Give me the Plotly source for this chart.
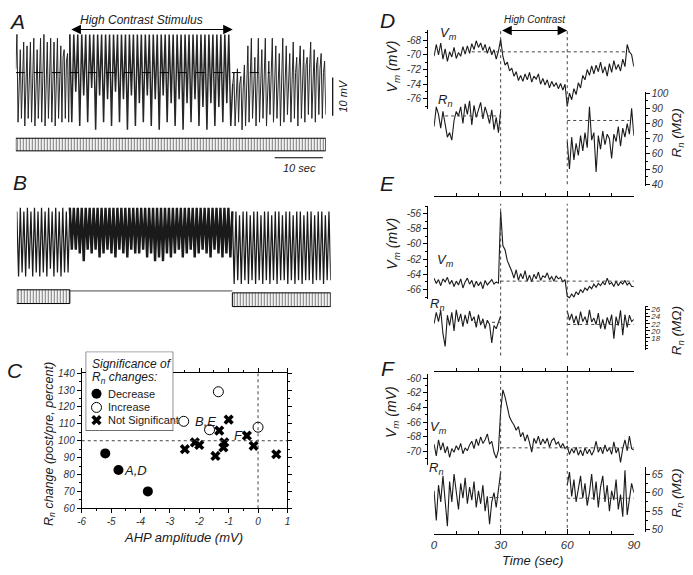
import numpy as np
import plotly.graph_objects as go

W, H = 693, 575
FONT = "Liberation Sans"
INK = "#1a1a1a"


def px(x):
    return x / W


def py(y):
    return 1 - y / H


# ---------------- Panel A : membrane potential (mV re. resting level) ----------------
a_phase_t = [0.0, 11.2, 45.0, 64.3]          # start, stimulus on, stimulus off, end (s)
a_rest_end = 52.7                            # dashed resting-level line ends (s)
a_pre = [1, 10, -13, 0, 6, -12, 2, 8, -14, 1, 7, -12, 0, 8, -13, 2, 9, -14, 1, 6, -12, 3, 9, -13,
         2, 10, -14, 1, 8, -12, 3, 9, -13, 2, 8, -14, 3, 9, -12, 2, 7, -13, 4, 6, -12, 3, 5, -13]
a_stim = [10, -13, 10, -5, 10, -14, 10, -6, 10, -13, 10, -4, 10, -15, 10, -6, 10, -13, 10, -7,
          10, -14, 10, -5, 10, -13, 10, -7, 10, -15, 10, -6, 10, -14, 10, -8, 10, -13, 10, -6,
          10, -14, 10, -7, 10, -15, 10, -6, 10, -13, 10, -8, 10, -14, 10, -7, 10, -15, 10, -8,
          10, -13, 10, -7, 10, -14, 10, -9, 10, -15, 10, -8, 10, -14, 10, -9, 10, -13, 10, -8,
          10, -14]
a_post = [-3, 0, -14, -4, 1, -13, -3, -1, -15, -4, 2, -14, -3, 7, -13, -2, 9, -12, -4, 4, -14,
          -3, 9, -13, -2, 6, -12, -3, 9, -14, -2, 3, -11, -1, 9, -13, -2, 7, -12, 0, 5, -14,
          -1, 9, -13, -1, 7, -11, 0, 5, -13, 1, 8, -12, 0, 4, -14, 1, 7, -12, 0, 6, -13,
          2, 4, -11, 1, 8, -12, 0, 6, -13, 2, 4, -11, 1, 5, -12, 0, 3, -11]

# ---------------- Panel B ----------------
b_phase_t = [0.0, 11.0, 44.7, 65.1]
b_pre = [9, -8, 10, -7, 9, -8, 10, -6, 9, -8, 10, -7, 9, -8, 10, -7, 9, -8, 10, -6, 9, -8, 10, -7,
         9, -8, 10, -7, 9, -7]
b_stim = [10, -1, 10, -1, 10, -2, 10, -4, 10, -1, 10, -2, 10, -1, 10, -3, 10, -2, 10, -1,
          10, -2, 10, -3, 10, -1, 10, -2, 10, -3, 10, -1, 10, -2, 10, -2, 10, -1, 10, -3,
          10, -2, 10, -4, 10, -3, 10, -4, 10, -2, 10, -3, 10, -2, 10, -1, 10, -3, 10, -2,
          10, -1, 10, -3, 10, -2, 10, -1, 10, -2, 10, -3, 10, -1, 10, -2, 10, -3, 10, -2,
          10, -3]
b_post = [9, -10, 9, -9, 8, -10, 9, -9, 9, -10, 8, -9, 9, -10, 9, -9, 8, -10, 9, -9, 9, -10, 8, -9,
          9, -10, 9, -9, 8, -9, 9, -10, 9, -9, 8, -10, 9, -9, 9, -10, 8, -9, 9, -9, 9, -10, 8, -9,
          9, -9, 9, -10, 8, -9, 9, -9]

# ---------------- Panel C ----------------
dec_x = [-5.2, -4.75, -3.75]
dec_y = [92.5, 82.7, 70.0]
inc_x = [-2.53, -1.35, -1.65, 0.0]
inc_y = [111.5, 129.0, 106.5, 108.0]
ns_x = [-2.49, -2.15, -2.0, -1.45, -1.32, -1.0, -1.15, -1.18, -0.38, -0.15, 0.62]
ns_y = [95.0, 99.0, 97.5, 91.0, 106.0, 112.5, 99.0, 96.0, 103.0, 97.0, 92.0]
c_xticks = [-6, -5, -4, -3, -2, -1, 0, 1]
c_yticks = [60, 70, 80, 90, 100, 110, 120, 130, 140]
c_labels = [("B,E", -1.79, 111.6), ("A,D", -4.18, 82.6), ("F", -0.68, 102.9)]
c_legend = ["Decrease", "Increase", "Not Significant"]

# ---------------- Panels D-F (1 s samples, 0-90 s; Rn before and after stimulus) ----------------
stim_on_off = [30, 60]
d_vm = [-70.2, -68.6, -70.0, -68.4, -70.6, -69.2, -70.9, -69.6, -70.3, -69.0,
        -70.5, -69.7, -70.2, -68.9, -69.9, -68.8, -69.8, -68.5, -69.3, -68.1,
        -69.0, -68.4, -69.4, -68.6, -69.8, -68.9, -70.0, -69.3, -70.6, -69.5,
        -67.9, -70.2, -71.4, -71.0, -72.2, -71.8, -72.9, -72.3, -73.5, -72.8,
        -73.6, -72.6, -73.4, -72.4, -73.7, -72.9, -73.3, -72.6, -74.0, -73.2,
        -74.1, -73.4, -74.5, -73.6, -74.3, -73.8, -74.6, -73.9, -74.8, -74.0,
        -77.0, -75.2, -76.1, -74.6, -75.4, -73.8, -74.5, -72.8, -73.4, -72.0,
        -72.8, -71.5, -72.6, -71.4, -72.3, -71.0, -72.5, -71.6, -72.9, -71.2,
        -72.4, -70.8, -72.0, -71.3, -72.2, -70.6, -71.6, -68.6, -69.6, -70.0, -71.6]
d_rn_pre = [78, 91, 86, 77, 88, 80, 71, 74, 69, 82, 88, 85, 91, 80, 93, 86, 95, 79, 92, 84,
            90, 94, 83, 91, 86, 80, 89, 76, 84, 74, 88]
d_rn_post = [68, 50, 71, 56, 67, 59, 72, 62, 74, 64, 91, 69, 74, 48, 72, 63, 75, 66, 73, 70,
             57, 73, 68, 78, 65, 77, 71, 80, 73, 90, 72]
d_vm_ref, d_rn_ref_pre, d_rn_ref_post = -69.6, 85, 82

e_vm = [-64.5, -65.2, -64.7, -65.5, -64.6, -65.0, -64.4, -65.3, -64.8, -65.6,
        -64.9, -65.4, -64.6, -65.8, -65.0, -64.5, -65.3, -64.8, -65.7, -64.9,
        -65.5, -65.0, -65.9, -64.8, -65.4, -65.1, -64.7, -65.3, -65.0, -65.2,
        -55.7, -60.2, -60.8, -62.2, -62.8, -63.6, -64.5, -63.4, -64.8, -63.9,
        -64.6, -63.5, -64.9, -64.1, -65.0, -64.0, -64.6, -63.7, -64.8, -64.2,
        -64.4, -63.8, -64.7, -64.3, -64.9, -64.2, -64.6, -64.4, -65.0, -64.7,
        -66.9, -67.1, -66.6, -67.0, -66.3, -66.7, -66.0, -66.4, -65.8, -66.1,
        -65.6, -65.9, -65.3, -65.7, -65.2, -65.5, -65.0, -65.4, -64.5, -65.3,
        -65.1, -65.6, -64.9, -65.5, -65.0, -65.3, -64.8, -65.4, -65.1, -65.6, -65.6]
e_rn_pre = [22.0, 25.2, 22.6, 25.8, 19.2, 15.6, 24.4, 21.5, 25.2, 20.0, 25.9, 22.5, 24.8, 21.2,
            24.5, 22.0, 25.6, 22.8, 24.0, 21.0, 24.6, 21.6, 23.4, 20.6, 23.0, 21.8, 16.6, 21.5,
            20.6, 22.6, 24.2]
e_rn_post = [25.6, 23.0, 24.8, 22.2, 24.2, 21.6, 25.4, 22.6, 24.0, 22.0, 25.9, 22.5, 23.6, 21.8,
             25.0, 20.6, 23.2, 20.4, 23.8, 21.8, 24.6, 17.8, 24.0, 21.5, 25.8, 18.8, 24.6, 21.0,
             24.4, 22.6, 23.2]
e_vm_ref, e_rn_ref_pre, e_rn_ref_post = -64.9, 22.4, 21.8

f_vm = [-69.0, -70.6, -68.4, -69.8, -68.8, -70.2, -69.3, -70.8, -69.6, -70.1,
        -69.2, -69.8, -68.9, -70.3, -69.5, -69.9, -69.1, -68.6, -69.6, -68.3,
        -69.2, -68.0, -68.9, -68.4, -67.6, -69.0, -68.6, -70.1, -70.9, -69.8,
        -64.5, -61.6, -62.6, -64.2, -65.3, -65.9, -66.4, -67.1, -66.6, -68.0,
        -67.4, -68.6, -67.7, -68.8, -70.1, -68.2, -68.9, -67.9, -69.1, -68.3,
        -68.9, -68.2, -69.4, -68.5, -68.2, -69.0, -68.7, -69.5, -68.9, -69.6,
        -69.3, -70.4, -69.6, -70.2, -69.4, -70.5, -69.8, -70.6, -69.5, -70.3,
        -69.7, -70.5, -69.9, -68.6, -70.1, -69.4, -70.3, -69.1, -70.0, -69.5,
        -70.4, -68.7, -70.2, -69.5, -71.5, -69.6, -68.4, -69.9, -67.9, -69.6, -69.8]
f_rn_pre = [60.5, 52.5, 62.0, 57.5, 64.5, 58.0, 51.0, 63.0, 57.5, 65.0, 59.5, 55.5, 62.5, 58.5,
            64.0, 57.0, 61.5, 58.0, 63.0, 56.0, 60.5, 57.0, 62.0, 55.0, 59.0, 51.5, 57.5, 60.0,
            56.0, 61.5, 65.5]
f_rn_post = [62.0, 65.5, 59.0, 63.5, 57.5, 61.0, 64.5, 58.5, 62.5, 56.5, 60.0, 65.0, 58.0, 63.0,
             56.0, 61.5, 64.5, 57.5, 62.0, 55.0, 60.5, 58.0, 63.5, 55.5, 59.5, 53.5, 66.0, 54.0,
             58.5, 62.5, 60.0]
f_vm_ref, f_rn_ref_pre, f_rn_ref_post = -69.5, 58.7, 58.5

d_vm_ticks = [-68, -70, -72, -74, -76]
d_rn_ticks = [40, 50, 60, 70, 80, 90, 100]
e_vm_ticks = [-56, -58, -60, -62, -64, -66]
e_rn_ticks = [18, 20, 22, 24, 26]
f_vm_ticks = [-60, -62, -64, -66, -68, -70]
f_rn_ticks = [50, 55, 60, 65]
time_ticks = [0, 30, 60, 90]

# ======================================================================
fig = go.Figure()


def line_trace(x, y, xa, ya, width=1.0, color=INK):
    fig.add_trace(go.Scatter(x=x, y=y, xaxis=xa, yaxis=ya, mode="lines",
                             line=dict(color=color, width=width), showlegend=False,
                             hoverinfo="skip"))


def phase_times(bounds, segs):
    out = []
    for i, s in enumerate(segs):
        out.append(np.linspace(bounds[i], bounds[i + 1], len(s), endpoint=(i == len(segs) - 1)))
    return np.concatenate(out)


def phased_trace(bounds, segs, xa, ya, widths, color):
    t = phase_times(bounds, segs)
    v = np.concatenate([np.asarray(s, dtype=float) for s in segs])
    start = 0
    for i, s in enumerate(segs):
        stop = start + len(s) + (1 if i < len(segs) - 1 else 0)
        line_trace(t[start:stop], v[start:stop], xa, ya, width=widths[i], color=color)
        start += len(s)


pat = dict(shape="|", size=3, solidity=0.4, fgcolor="black", bgcolor="white")

# ---- A ----
phased_trace(a_phase_t, [a_pre, a_stim, a_post], "x", "y", [1.0, 1.5, 1.0], "#262626")
fig.add_trace(go.Bar(x=[(a_phase_t[0] + a_phase_t[-1]) / 2], y=[3.3], base=[-20.5],
                     width=[a_phase_t[-1] - a_phase_t[0]], xaxis="x", yaxis="y",
                     marker=dict(color="white", line=dict(color="black", width=1), pattern=pat),
                     showlegend=False, hoverinfo="skip"))

# ---- B ----
phased_trace(b_phase_t, [b_pre, b_stim, b_post], "x2", "y2", [1.25, 2.4, 1.25], "#1a1a1a")
fig.add_trace(go.Bar(x=[(b_phase_t[0] + b_phase_t[1]) / 2, (b_phase_t[2] + b_phase_t[3]) / 2],
                     y=[3.6, 3.6], base=[-15.1, -15.9],
                     width=[b_phase_t[1] - b_phase_t[0], b_phase_t[3] - b_phase_t[2]],
                     xaxis="x2", yaxis="y2",
                     marker=dict(color="white", line=dict(color="black", width=1), pattern=pat),
                     showlegend=False, hoverinfo="skip"))
line_trace([b_phase_t[1], b_phase_t[2]], [-11.8, -11.8], "x2", "y2", width=0.8)

# ---- C ----
MK = [dict(symbol="circle", size=10, color="black"),
      dict(symbol="circle-open", size=10, color="black", line=dict(width=1)),
      dict(symbol="x", size=9, color="black", line=dict(width=0))]
for (xs, ys), mk in zip([(dec_x, dec_y), (inc_x, inc_y), (ns_x, ns_y)], MK):
    fig.add_trace(go.Scatter(x=xs, y=ys, xaxis="x3", yaxis="y3", mode="markers", marker=mk,
                             showlegend=False, hoverinfo="skip"))

# ---- C legend (own overlay subplot, drawn above C's frame) ----
fig.add_trace(go.Scatter(x=[0, 1, 1, 0, 0], y=[0, 0, 1, 1, 0], xaxis="x7", yaxis="y10",
                         mode="lines", fill="toself", fillcolor="white",
                         line=dict(color="black", width=1), showlegend=False, hoverinfo="skip"))
leg_rows = [396, 410, 423]
for row, mk in zip(leg_rows, MK):
    fig.add_trace(go.Scatter(x=[(94 - 83) / 89], y=[(434 - row) / 81], xaxis="x7", yaxis="y10",
                             mode="markers", marker=mk, showlegend=False, hoverinfo="skip"))

# ---- D, E, F ----
panels = [
    ("x4", "y4", "y5", d_vm, d_rn_pre, d_rn_post),
    ("x5", "y6", "y7", e_vm, e_rn_pre, e_rn_post),
    ("x6", "y8", "y9", f_vm, f_rn_pre, f_rn_post),
]
for xa, yv, yr, vm, rpre, rpost in panels:
    line_trace(np.arange(len(vm)), vm, xa, yv, width=1.1)
    line_trace(np.arange(len(rpre)), rpre, xa, yr, width=1.1)
    line_trace(stim_on_off[1] + np.arange(len(rpost)), rpost, xa, yr, width=1.1)

# ======================================================================
tfont = dict(family=FONT, size=10, color="#333333", style="italic")


def hidden(domain, rng, anchor):
    return dict(domain=domain, range=rng, visible=False, anchor=anchor, fixedrange=True)


def vm_axis(ticks, rng, top, bottom):
    return dict(domain=[py(bottom), py(top)], range=rng, anchor="free", position=px(430),
                showline=True, linecolor="black", linewidth=1, ticks="outside", ticklen=4,
                tickcolor="black", tickvals=ticks, ticktext=[str(t) for t in ticks],
                tickfont=tfont, showgrid=False, zeroline=False,
                minor=dict(tickmode="linear", tick0=0, dtick=1, ticks="outside", ticklen=2,
                           tickcolor="black"))


def rn_axis(ticks, rng, top, bottom, mdt, fsize=10):
    return dict(domain=[py(bottom), py(top)], range=rng, anchor="free", position=px(651),
                side="right", showline=True, linecolor="black", linewidth=1, ticks="outside",
                ticklen=4, tickcolor="black", tickvals=ticks, ticktext=[str(t) for t in ticks],
                tickfont=dict(tfont, size=fsize), showgrid=False, zeroline=False,
                minor=dict(tickmode="linear", tick0=0, dtick=mdt, ticks="outside", ticklen=2,
                           tickcolor="black"))


def time_axis(ypos, labels):
    return dict(domain=[px(437), px(640)], range=[0, 90], anchor="free", position=py(ypos),
                showline=True, linecolor="black", linewidth=1, ticks="inside", ticklen=5,
                tickcolor="black", tickvals=time_ticks, ticktext=[str(t) for t in time_ticks],
                showticklabels=labels,
                tickfont=dict(family=FONT, size=11.5, color="#333333", style="italic"),
                showgrid=False, zeroline=False,
                minor=dict(tickmode="linear", tick0=0, dtick=10, ticks="inside", ticklen=3,
                           tickcolor="black"))


layout = dict(
    width=W, height=H, margin=dict(l=0, r=0, t=0, b=0),
    paper_bgcolor="white", plot_bgcolor="rgba(0,0,0,0)", showlegend=False,
    font=dict(family=FONT, color=INK),
    xaxis=hidden([px(12), px(327)], [a_phase_t[0], a_phase_t[-1]], "y"),
    yaxis=hidden([py(150), py(25)], [-21.03, 11.03], "x"),
    xaxis2=hidden([px(13), px(332)], [b_phase_t[0], b_phase_t[-1]], "y2"),
    yaxis2=hidden([py(310), py(200)], [-16.67, 11.54], "x2"),
    xaxis3=dict(domain=[px(79), px(288)], range=[-6, 1], anchor="y3", showline=True,
                linecolor="black", linewidth=1, mirror="ticks", ticks="outside", ticklen=4,
                tickcolor="black", tickvals=c_xticks, ticktext=[str(v) for v in c_xticks],
                tickfont=tfont, showgrid=False, zeroline=False,
                minor=dict(tickmode="linear", tick0=-6, dtick=0.5, ticks="outside", ticklen=2,
                           tickcolor="black")),
    yaxis3=dict(domain=[py(513), py(375)], range=[60, 140], anchor="x3", showline=True,
                linecolor="black", linewidth=1, mirror="ticks", ticks="outside", ticklen=4,
                tickcolor="black", tickvals=c_yticks, ticktext=[str(v) for v in c_yticks],
                tickfont=tfont, showgrid=False, zeroline=False,
                minor=dict(tickmode="linear", tick0=60, dtick=5, ticks="outside", ticklen=2,
                           tickcolor="black")),
    xaxis4=time_axis(194, False),
    yaxis4=vm_axis(d_vm_ticks, [-77.4, -66.7], 25, 105.5),
    yaxis5=rn_axis(d_rn_ticks, [38.5, 101], 87.5, 184.3, 5),
    xaxis5=time_axis(373, False),
    yaxis6=vm_axis(e_vm_ticks, [-67.3, -55.0], 204.3, 299.6),
    yaxis7=rn_axis(e_rn_ticks, [14.5, 27], 306.4, 351.7, 1, fsize=8),
    xaxis6=time_axis(539, True),
    yaxis8=vm_axis(f_vm_ticks, [-71.8, -59.5], 376.3, 468.5),
    yaxis9=rn_axis(f_rn_ticks, [49.5, 67], 470.4, 536.9, 2.5),
    xaxis7=hidden([px(83), px(172)], [0, 1], "y10"),
    yaxis10=hidden([py(434), py(353)], [0, 1], "x7"),
)
fig.update_layout(**layout)

# ---------------- shapes ----------------
DOT = dict(color="#444444", width=1, dash="dot")
shapes = []
# A resting level and scale bars
shapes.append(dict(type="line", xref="x", yref="y", x0=a_phase_t[0], x1=a_rest_end, y0=0, y1=0,
                   line=dict(color="black", width=1, dash="dash"), layer="above"))
shapes.append(dict(type="line", xref="paper", yref="y", x0=px(334), x1=px(334), y0=-11.3, y1=-1.3,
                   line=dict(color="black", width=1.2)))
shapes.append(dict(type="line", xref="x", yref="paper", x0=53.7, x1=63.7, y0=py(155), y1=py(155),
                   line=dict(color="black", width=1.2)))
# C reference lines
shapes.append(dict(type="line", xref="x3", yref="y3", x0=-6, x1=1, y0=100, y1=100, line=DOT))
shapes.append(dict(type="line", xref="x3", yref="y3", x0=0, x1=0, y0=60, y1=140, line=DOT))
# D-F stimulus markers and reference levels
vspans = [("x4", 25, 182), ("x5", 202, 357), ("x6", 376, 533)]
for xa, top, bot in vspans:
    for t in stim_on_off:
        shapes.append(dict(type="line", xref=xa, yref="paper", x0=t, x1=t, y0=py(bot), y1=py(top),
                           line=DOT))
refs = [
    ("x4", "y4", 17, 88, d_vm_ref), ("x4", "y5", 5, 30, d_rn_ref_pre), ("x4", "y5", 60, 88, d_rn_ref_post),
    ("x5", "y6", 30, 90, e_vm_ref), ("x5", "y7", 18, 30, e_rn_ref_pre), ("x5", "y7", 60, 90, e_rn_ref_post),
    ("x6", "y8", 30, 90, f_vm_ref), ("x6", "y9", 25, 30, f_rn_ref_pre), ("x6", "y9", 60, 90, f_rn_ref_post),
]
for xa, ya, t0, t1, v in refs:
    shapes.append(dict(type="line", xref=xa, yref=ya, x0=t0, x1=t1, y0=v, y1=v, line=DOT))
fig.update_layout(shapes=shapes)


# ---------------- annotations ----------------
def ann(x, y, text, size, angle=0, xanchor="center", family=FONT, color=INK):
    fig.add_annotation(x=px(x), y=py(y), xref="paper", yref="paper", text=text, showarrow=False,
                       textangle=angle, xanchor=xanchor, yanchor="middle",
                       font=dict(family=family, size=size, color=color))


for lab, x, y in [("A", 13, 16), ("B", 16, 180), ("C", 11, 372), ("D", 390, 15), ("E", 390, 181),
                  ("F", 390, 370)]:
    ann(x, y, "<i>%s</i>" % lab, 21)

ann(140, 14, "<i>High Contrast Stimulus</i>", 12)
ann(540, 14, "<i>High Contrast</i>", 10)
ann(345, 92, "<i>10 mV</i>", 11, angle=-90)
ann(300, 165, "<i>10 sec</i>", 11)

# stimulus arrows
fig.add_annotation(x=a_phase_t[2], y=py(24), xref="x", yref="paper", ax=a_phase_t[1], ay=0,
                   axref="x", ayref="pixel", text="", showarrow=True, arrowside="end+start",
                   arrowhead=2, startarrowhead=2, arrowsize=1.6, startarrowsize=1.6,
                   arrowwidth=1.2, arrowcolor="black")
fig.add_annotation(x=stim_on_off[1], y=py(25), xref="x4", yref="paper", ax=stim_on_off[0], ay=0,
                   axref="x4", ayref="pixel", text="", showarrow=True, arrowside="end+start",
                   arrowhead=2, startarrowhead=2, arrowsize=1.6, startarrowsize=1.6,
                   arrowwidth=1.2, arrowcolor="black")

# C labels and titles
for txt, x, y in c_labels:
    fig.add_annotation(x=x, y=y, xref="x3", yref="y3", text="<i>%s</i>" % txt, showarrow=False,
                       font=dict(family=FONT, size=13, color=INK))
ann(46, 447, "<i>R<sub>n</sub> change (post/pre, percent)</i>", 12.5, angle=-90)
ann(182, 543, "<i>AHP amplitude (mV)</i>", 13)

# C legend text
ann(87, 366, "<i>Significance of</i>", 12, xanchor="left")
ann(87, 380, "<i>R<sub>n</sub> changes:</i>", 12, xanchor="left")
for row, txt in zip(leg_rows, c_legend):
    ann(104, row, txt, 11, xanchor="left")

# D-F labels
for x, y, txt in [(452, 28, "V<sub>m</sub>"), (448, 97, "R<sub>n</sub>"),
                  (449, 260, "V<sub>m</sub>"), (440, 305, "R<sub>n</sub>"),
                  (441, 430, "V<sub>m</sub>"), (439, 472, "R<sub>n</sub>")]:
    ann(x, y, "<i>%s</i>" % txt, 13)
for y in [62, 243, 415]:
    ann(395, y, "<i>V<sub>m</sub> (mV)</i>", 14, angle=-90)
for y in [130, 332, 498]:
    ann(684, y, "<i>R<sub>n</sub> (M\u03a9)</i>", 13.5, angle=-90)
ann(537, 566, "<i>Time (sec)</i>", 13)

# the page's default 8px body margin would shift the fixed-size figure
fig.write_html("out.html", config={"displayModeBar": False},
               post_script="document.body.style.margin='0px';")
